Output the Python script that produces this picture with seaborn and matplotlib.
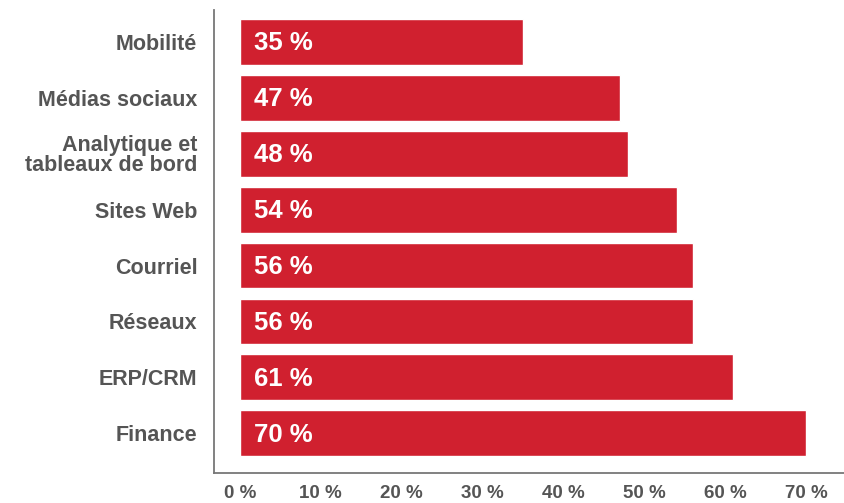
import matplotlib
matplotlib.use("Agg")
import matplotlib.pyplot as plt
import seaborn as sns
import pandas as pd

categories = ["Mobilité", "Médias sociaux", "Analytique et\ntableaux de bord", "Sites Web",
              "Courriel", "Réseaux", "ERP/CRM", "Finance"]
values = [35, 47, 48, 54, 56, 56, 61, 70]
tick_values = [0, 10, 20, 30, 40, 50, 60, 70]
tick_labels = ["0 %", "10 %", "20 %", "30 %", "40 %", "50 %", "60 %", "70 %"]

sns.set_theme(style="white")
plt.rcParams['font.family'] = ['Liberation Sans', 'DejaVu Sans']

df = pd.DataFrame({"cat": categories, "val": values})

fig = plt.figure(figsize=(8.44, 5.03), dpi=100)
ax = fig.add_axes([214/844, 30/503, 630/844, 463/503])

red = "#D0202F"
sns.barplot(data=df, y="cat", x="val", color=red, saturation=1, width=0.82, ax=ax, orient="h")

for i, v in enumerate(values):
    ax.annotate(f"{v} %", xy=(0, i), xytext=(10, -1), textcoords="offset points",
                ha="left", va="center", color="white", fontsize=18.5, fontweight="bold")

ax.set_xlim(-3.2, 74.7)
ax.set_ylim(7.71, -0.57)
ax.set_xticks(tick_values)
ax.set_xticklabels(tick_labels, fontsize=13.5, fontweight="bold", color="#555555")
ax.set_yticklabels(categories, fontsize=15.5, fontweight="bold", color="#555555", linespacing=0.95)
ax.tick_params(axis="x", length=0, pad=9)
ax.tick_params(axis="y", length=0, pad=12)
ax.set_xlabel("")
ax.set_ylabel("")
for s in ["top", "right"]:
    ax.spines[s].set_visible(False)
for s in ["left", "bottom"]:
    ax.spines[s].set_color("#777777")
    ax.spines[s].set_linewidth(1.3)

fig.savefig("out.png", dpi=100)
